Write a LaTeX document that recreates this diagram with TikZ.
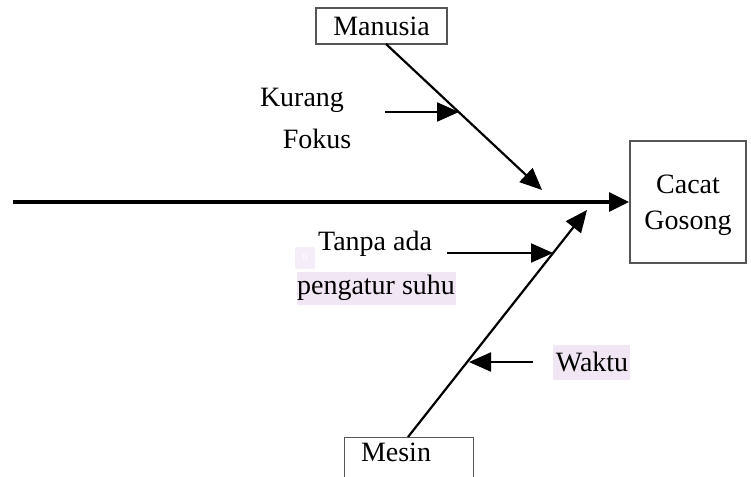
\documentclass[tikz,border=0pt]{standalone}
\usepackage{fontspec}
\setmainfont{Liberation Serif}
\usetikzlibrary{arrows.meta}
\definecolor{hl}{HTML}{F1E6F3}
\definecolor{boxline}{HTML}{555555}
\begin{document}
\begin{tikzpicture}[x=1pt,y=-1pt,
  every node/.style={font=\fontsize{28}{34}\selectfont, inner sep=0pt},
  catbox/.style={draw=boxline, line width=1.3pt},
  bone/.style={line width=2.2pt, -{Triangle[length=22pt,width=19pt]}},
  spine/.style={line width=3.4pt, -{Triangle[length=20pt,width=19pt]}}]
\useasboundingbox (0,0) rectangle (751,476);
\clip (0,0) rectangle (751,476);

% cause and effect boxes
\node[catbox, minimum width=131pt, minimum height=36pt] (manusia) at (381.5,26) {Manusia};
\node[catbox, minimum width=116pt, minimum height=122pt] (cacat) at (688,202) {};
\node[align=center, font=\fontsize{28}{36}\selectfont] (cacattxt) at (688,205) {Cacat\\Gosong};
\node[catbox, minimum width=129pt, minimum height=60pt, anchor=north west] (mesin) at (344,437) {};
\node (mesintxt) at (396,452) {Mesin};

% highlighted labels
\fill[hl] (297,272) rectangle (456,305);
\fill[hl] (553,345) rectangle (630,380);
\node[fill=hl!70, text=white, font=\fontsize{11}{12}\selectfont, minimum width=20pt, minimum height=22pt, rounded corners=2pt] (tag) at (305,258) {9};

% cause labels
\node (kurang) at (302,100) {Kurang};
\node (fokus) at (317,139) {Fokus};
\node (tanpa) at (375,244) {Tanpa ada};
\node (suhu) at (376,288) {pengatur suhu};
\node (waktu) at (592,362) {Waktu};

% end points of the lines
\coordinate (spineS) at (13,202);
\coordinate (spineE) at (629,202);
\coordinate (topS) at (386,44);
\coordinate (topE) at (542,190);
\coordinate (botS) at (408,437);
\coordinate (botE) at (587,210);
\coordinate (kS) at (385,112);
\coordinate (kE) at (459,112);
\coordinate (tS) at (447,253);
\coordinate (tE) at (553,253);
\coordinate (wS) at (533,362);
\coordinate (wE) at (469,362);

% main spine and category bones
\draw[spine] (spineS) -- (spineE);
\draw[bone] (topS) -- (topE);
\draw[bone] (botS) -- (botE);

% sub causes
\draw[bone] (kS) -- (kE);
\draw[bone] (tS) -- (tE);
\draw[bone] (wS) -- (wE);
\end{tikzpicture}
\end{document}
